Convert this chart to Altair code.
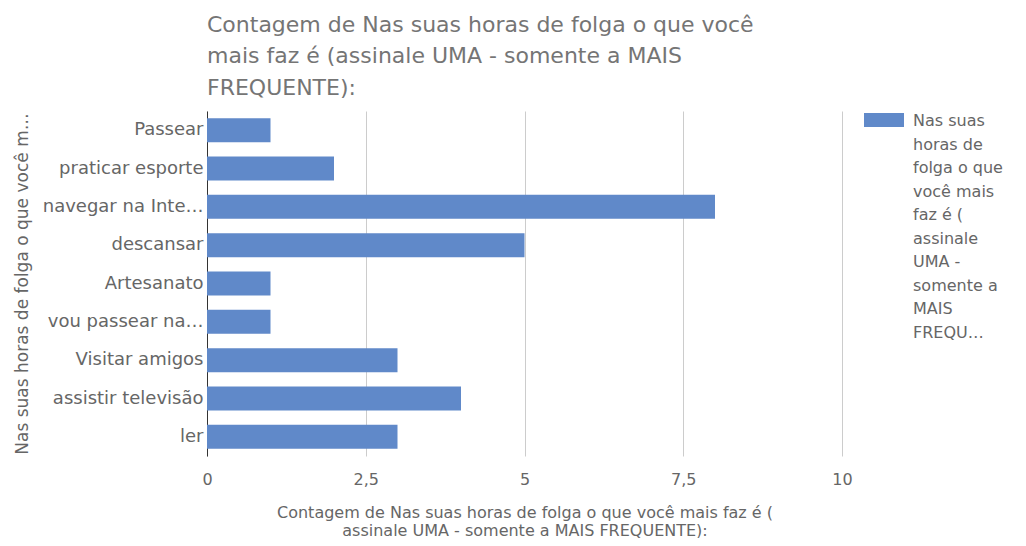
import json
import altair as alt
import pandas as pd

categories = ["Passear", "praticar esporte", "navegar na Inte…", "descansar", "Artesanato",
              "vou passear na…", "Visitar amigos", "assistir televisão", "ler"]
counts = [1, 2, 8, 5, 1, 1, 3, 4, 3]
series_name = "Nas suas horas de folga o que você mais faz é (assinale UMA - somente a MAIS FREQUENTE):"
legend_lines = ["Nas suas", "horas de", "folga o que", "você mais", "faz é (", "assinale",
                "UMA -", "somente a", "MAIS", "FREQU…"]
title_lines = ["Contagem de Nas suas horas de folga o que você",
               "mais faz é (assinale UMA - somente a MAIS",
               "FREQUENTE):"]
x_title_lines = ["Contagem de Nas suas horas de folga o que você mais faz é (",
                 "assinale UMA - somente a MAIS FREQUENTE):"]
y_title = "Nas suas horas de folga o que você m…"
x_ticks = [0, 2.5, 5, 7.5, 10]

df = pd.DataFrame({"cat": categories, "count": counts, "serie": [series_name] * len(categories)})

FONT = "DejaVu Sans"
BAR = "#6089c9"
GRAY = "#666666"

chart = alt.Chart(df).mark_bar().encode(
    y=alt.Y("cat:N", sort=categories,
            scale=alt.Scale(paddingInner=0.375, paddingOuter=0.1875),
            axis=alt.Axis(title=y_title, titleX=-185, titleY=172.5, titleAngle=270,
                          titleAlign="center", titleBaseline="middle",
                          titleFont=FONT, titleFontSize=17, titleFontWeight="normal", titleColor=GRAY,
                          labelFont=FONT, labelFontSize=18, labelColor=GRAY, labelPadding=4,
                          labelLimit=0, ticks=False, tickSize=0, grid=False,
                          domain=True, domainColor="#333333", domainWidth=1)),
    x=alt.X("count:Q", scale=alt.Scale(domain=[0, 10], nice=False),
            axis=alt.Axis(values=x_ticks, labelFlush=False,
                          labelExpr="replace(format(datum.value, '.2~f'), '.', ',')",
                          title=x_title_lines, titleY=48, titleBaseline="top",
                          titleLineHeight=18, titleFont=FONT, titleFontSize=16,
                          titleFontWeight="normal", titleColor=GRAY,
                          labelFont=FONT, labelFontSize=16, labelColor=GRAY, labelPadding=15,
                          ticks=False, tickSize=0, domain=False,
                          grid=True, gridColor="#cccccc", gridWidth=1)),
    color=alt.Color("serie:N", scale=alt.Scale(range=[BAR]),
                    legend=alt.Legend(title=None, orient="none", legendX=657, legendY=-18,
                                      symbolType="M-1,0H1V0.7H-1Z", symbolSize=1600,
                                      symbolStrokeWidth=0, symbolOpacity=1,
                                      labelExpr=json.dumps(legend_lines, ensure_ascii=False),
                                      labelBaseline="top", labelFont=FONT, labelFontSize=16,
                                      labelColor=GRAY, labelOffset=9, labelLimit=0, padding=0)),
).properties(
    width=635, height=345,
    title=alt.TitleParams(text=title_lines, anchor="start", frame="group", font=FONT,
                          fontSize=22, fontWeight="normal", color="#757575",
                          lineHeight=31.7, baseline="bottom", offset=-10, dy=19),
    autosize=alt.AutoSizeParams(type="none"),
    padding={"left": 199, "top": 103, "right": 176, "bottom": 82},
).configure(
    style={"guide-label": {"lineHeight": 23.5}},
).configure_view(strokeWidth=0)

chart.save("out.html", embed_options={"renderer": "svg", "actions": False})
